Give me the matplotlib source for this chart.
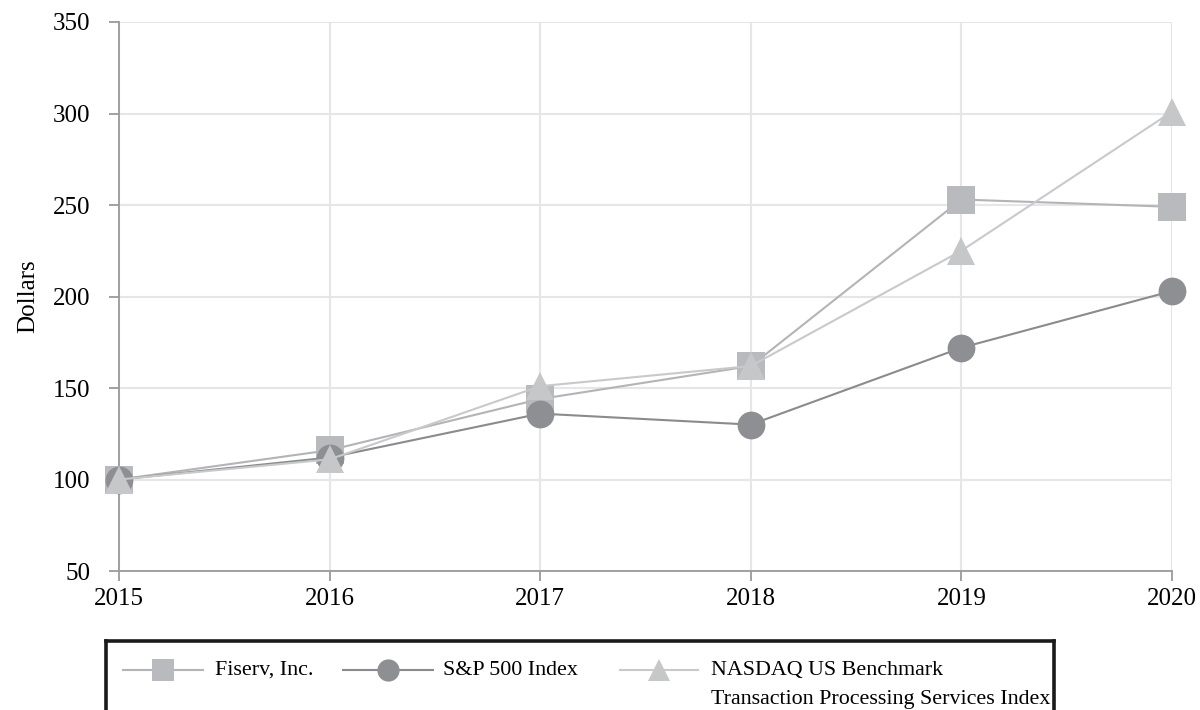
import matplotlib
matplotlib.use('Agg')
import matplotlib.pyplot as plt

plt.rcParams['font.family'] = ['Liberation Serif', 'DejaVu Serif']

# ── data ─────────────────────────────────────────────────────────────
years = [2015, 2016, 2017, 2018, 2019, 2020]
fiserv = [100, 116, 144, 162, 253, 249]
sp500 = [100, 112, 136, 130, 172, 203]
nasdaq = [100, 111, 151, 162, 225, 301]
yticks = [50, 100, 150, 200, 250, 300, 350]

series = [
    ('Fiserv, Inc.', fiserv, 's', '#b3b4b7', '#b9babd'),
    ('S&P 500 Index', sp500, 'o', '#8a8b8f', '#8e8f93'),
    ('NASDAQ US Benchmark\nTransaction Processing Services Index', nasdaq, '^', '#c8c9ca', '#c6c7c8'),
]

fig = plt.figure(figsize=(12, 7.1), dpi=100)
fig.patch.set_facecolor('white')
ax = fig.add_axes([119/1200, 1 - 571/710, (1172-119)/1200, (571-22)/710])

for name, vals, mk, lc, mc in series:
    ax.plot(years, vals, color=lc, lw=1.5, marker=mk, markersize=20,
            markerfacecolor=mc, markeredgewidth=0, clip_on=False, zorder=3)

ax.set_xlim(2015, 2020)
ax.set_ylim(50, 350)
ax.set_xticks(years)
ax.set_yticks(yticks)
ax.grid(True, color='#e6e6e8', lw=1.5)
ax.set_axisbelow(True)
for s in ['top', 'right']:
    ax.spines[s].set_visible(False)
for s in ['left', 'bottom']:
    ax.spines[s].set_color('#9a9a9a')
    ax.spines[s].set_linewidth(1.3)
ax.tick_params(axis='both', labelsize=18, color='#9a9a9a', length=7.5, width=1.3)
ax.tick_params(axis='x', pad=5)
ax.tick_params(axis='y', pad=13)
ax.set_ylabel('Dollars', fontsize=18, labelpad=10)

# ── legend box ──────────────────────────────────────────────────────
lax = fig.add_axes([106/1200, -0.05, (1054-106)/1200, 0.05 + 69/710])
lax.set_xlim(106, 1054)
lax.set_ylim(710 + 0.05*710, 641)
lax.set_xticks([])
lax.set_yticks([])
for s in lax.spines.values():
    s.set_linewidth(2.6)
    s.set_color('#1a1a1a')

leg_pos = [(123, 203, 215), (343, 433, 443), (620, 698, 711)]
for (name, vals, mk, lc, mc), (x0, x1, tx) in zip(series, leg_pos):
    lax.plot([x0, x1], [670, 670], color=lc, lw=1.5)
    lax.plot([(x0+x1)/2], [670], marker=mk, markersize=16, color=mc, markeredgewidth=0)
    lines = name.split('\n')
    lax.text(tx, 670, lines[0], fontsize=15.8, va='center', ha='left')
    if len(lines) > 1:
        lax.text(tx, 699, lines[1], fontsize=15.8, va='center', ha='left')

fig.savefig('out.png', dpi=100, facecolor='white')
